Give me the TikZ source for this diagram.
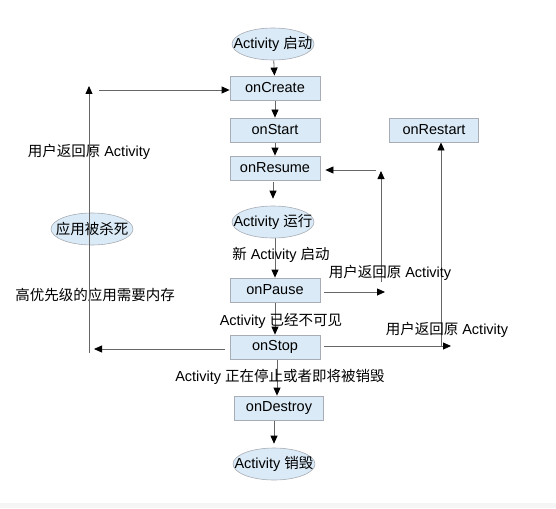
\documentclass[tikz,border=0pt]{standalone}
\usepackage{fontspec}
\setmainfont{Liberation Sans}
\newfontfamily\zhfont{Noto Sans CJK SC}
\usepackage{tikz}
\usetikzlibrary{positioning,calc,shapes.geometric,arrows.meta}
\pgfdeclarelayer{background}
\pgfdeclarelayer{foreground}
\pgfsetlayers{background,main,foreground}
\definecolor{lcfill}{rgb}{0.855, 0.918, 0.965}
\definecolor{lcborder}{rgb}{0.66, 0.68, 0.71}
\definecolor{lcline}{rgb}{0.4, 0.4, 0.4}
\definecolor{lcband}{rgb}{0.96, 0.96, 0.96}
\newcommand{\zh}[1]{{\zhfont #1}}
\newcommand{\ovaltext}[1]{\makebox[0pt]{#1}}
\tikzstyle{lcstep} = [rectangle, draw = lcborder, fill = lcfill, line width = 0.8pt, minimum width = 90pt, minimum height = 24pt, inner sep = 0pt, text = black]
\tikzstyle{lcstate} = [ellipse, draw = lcborder, fill = lcfill, line width = 0.6pt, minimum width = 82pt, minimum height = 32pt, inner sep = 0pt, text = black]
\tikzstyle{lcnote} = [inner sep = 0pt, text = black]
\tikzstyle{lcflow} = [lcline, line width = 0.8pt, -{Triangle[length = 8pt, width = 7pt, color = black]}]

\begin{document}
\begin{tikzpicture}[x = 1pt, y = -1pt, font = \fontsize{14.5}{17}\selectfont]
\useasboundingbox (0, 0) rectangle (556, 508);
\fill[lcband] (0, 503) rectangle (556, 508);
% main column
\node[lcstate] (start) at (273, 44) {\ovaltext{Activity \zh{启动}}};
\node[lcstep] (onCreate) at (275, 88) {onCreate};
\node[lcstep] (onStart) at (275, 130) {onStart};
\node[lcstep] (onResume) at (275, 168) {onResume};
\node[lcstate] (running) at (273, 222) {\ovaltext{Activity \zh{运行}}};
\node[lcstep] (onPause) at (275, 290) {onPause};
\node[lcstep] (onStop) at (275, 347) {onStop};
\node[lcstep, minimum width = 89pt] (onDestroy) at (279, 408) {onDestroy};
\node[lcstate] (destroyed) at (274, 464) {\ovaltext{Activity \zh{销毁}}};
\node[lcstep, minimum width = 89pt] (onRestart) at (434, 130) {onRestart};
\node[lcstate] (killed) at (92, 229) {\ovaltext{\zh{应用被杀死}}};
% labels
\node[lcnote] (lbNewAct) at (281, 255) {\zh{新} Activity \zh{启动}};
\node[lcnote] (lbHidden) at (281, 321) {Activity \zh{已经不可见}};
\node[lcnote] (lbStopping) at (280, 377) {Activity \zh{正在停止或者即将被销毁}};
\node[lcnote] (lbBackLeft) at (89, 152) {\zh{用户返回原} Activity};
\node[lcnote] (lbMemory) at (95, 295) {\zh{高优先级的应用需要内存}};
\node[lcnote] (lbBackPause) at (390, 273) {\zh{用户返回原} Activity};
\node[lcnote] (lbBackStop) at (447, 330) {\zh{用户返回原} Activity};
% loose ends
\coordinate (killTop) at (89, 86);
\coordinate (killLow) at (89, 353);
\coordinate (createIn) at (99, 90);
\coordinate (stopL) at (94, 349);
\coordinate (pauseR) at (385, 292);
\coordinate (resumeUp) at (381, 171);
\coordinate (resumeLow) at (381, 282);
\coordinate (resumeIn) at (376, 170);
\coordinate (stopR) at (451, 346);
\coordinate (restartLow) at (441, 347);
\begin{pgfonlayer}{background}
\draw[lcflow] (start) -- (onCreate);
\draw[lcflow] (onCreate) -- (onStart);
\draw[lcflow] (onStart) -- (onResume);
\draw[lcflow, shorten <= 2pt, shorten >= 7pt] (onResume.south -| running) -- (running);
\draw[lcflow] (running.south -| onPause) -- (onPause);
\draw[lcflow] (onPause) -- (onStop);
\draw[lcflow] (onStop.south) ++(2, 0) -- (onDestroy.north -| 277, 0);
\draw[lcflow, shorten >= 4pt] (onDestroy.south -| destroyed) -- (destroyed);
\draw[lcflow] (createIn) -- (createIn -| onCreate.west);
\draw[lcflow, shorten <= 5pt] (onStop.west |- stopL) -- (stopL);
\draw[lcflow, shorten <= 4pt] (onPause.east |- pauseR) -- (pauseR);
\draw[lcflow] (resumeLow) -- (resumeUp);
\draw[lcflow, shorten >= 5pt] (resumeIn) -- (resumeIn -| onResume.east);
\draw[lcflow, shorten <= 4pt] (onStop.east |- stopR) -- (stopR);
\draw[lcflow] (restartLow) -- (restartLow |- onRestart.south);
\end{pgfonlayer}
\begin{pgfonlayer}{foreground}
\draw[lcflow] (killLow) -- (killTop);
\end{pgfonlayer}
\end{tikzpicture}
\end{document}
